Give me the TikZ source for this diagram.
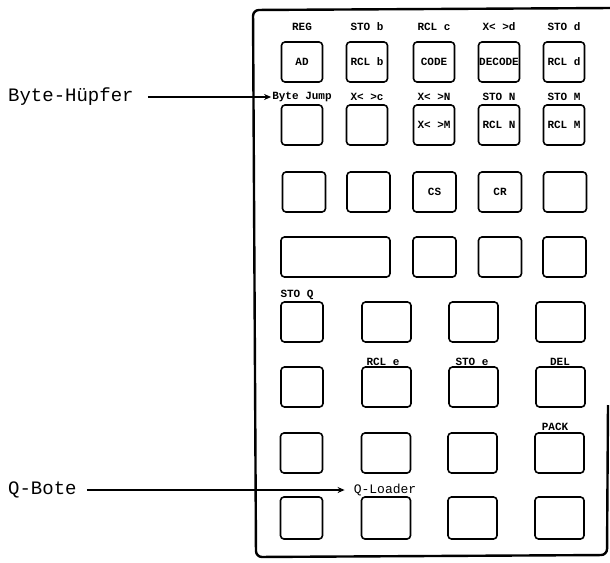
\documentclass[tikz,border=0pt]{standalone}
\usepackage{fontspec}
\setmainfont{Liberation Mono}
\usetikzlibrary{arrows.meta}
\begin{document}
\begin{tikzpicture}[x=1pt,y=-1pt,
  key/.style={draw, line width=1.6pt, rounded corners=3.5pt, inner sep=0pt,
    minimum width=41pt, minimum height=40pt, font=\fontsize{11}{11}\selectfont\bfseries},
  wkey/.style={key, minimum width=49pt},
  lab/.style={inner sep=1pt, font=\fontsize{11}{11}\selectfont\bfseries},
  side/.style={inner sep=0pt, anchor=west, font=\fontsize{19}{19}\selectfont},
  frame/.style={line width=2.4pt, rounded corners=6pt},
  pointer/.style={line width=1.1pt, -{Stealth[length=7pt,width=6pt]}}]
\useasboundingbox (0,0) rectangle (610,562);
% frame
\draw[frame] (612,8) -- (253,10) -- (256,557) -- (607,555) -- (608,405);
% row 1
\node[key] (k11) at (302,62) {AD};
\node[key] (k12) at (367,62) {RCL b};
\node[key] (k13) at (434,62) {CODE};
\node[key] (k14) at (499,62) {DECODE};
\node[key] (k15) at (564,62) {RCL d};
\node[lab] (l11) at (302,27) {REG};
\node[lab] (l12) at (367,27) {STO b};
\node[lab] (l13) at (434,27) {RCL c};
\node[lab] (l14) at (499,27) {X< >d};
\node[lab] (l15) at (564,27) {STO d};
% row 2
\node[key] (k21) at (302,125) {};
\node[key] (k22) at (367,125) {};
\node[key] (k23) at (434,125) {X< >M};
\node[key] (k24) at (499,125) {RCL N};
\node[key] (k25) at (564,125) {RCL M};
\node[lab] (bj) at (302,97) {Byte Jump};
\node[lab] (l22) at (367,97) {X< >c};
\node[lab] (l23) at (434,97) {X< >N};
\node[lab] (l24) at (499,97) {STO N};
\node[lab] (l25) at (564,97) {STO M};
% row 3
\node[key, minimum width=43pt] (k31) at (304,192) {};
\node[key, minimum width=43pt] (k32) at (368.5,192) {};
\node[key, minimum width=43pt] (k33) at (434.5,192) {CS};
\node[key, minimum width=43pt] (k34) at (500,192) {CR};
\node[key, minimum width=43pt] (k35) at (565,192) {};
% row 4
\node[key, minimum width=109pt] (k41) at (335.5,257) {};
\node[key, minimum width=43pt] (k43) at (434.5,257) {};
\node[key, minimum width=43pt] (k44) at (500,257) {};
\node[key, minimum width=43pt] (k45) at (564.5,257) {};
% row 5
\node[key, minimum width=42pt] (k51) at (302,322) {};
\node[wkey] (k52) at (386.5,322) {};
\node[wkey] (k53) at (473.5,322) {};
\node[wkey] (k54) at (560.5,322) {};
\node[lab] (l51) at (297,295) {STO Q};
% row 6
\node[key, minimum width=42pt] (k61) at (302,387) {};
\node[wkey] (k62) at (386.5,387) {};
\node[wkey] (k63) at (473.5,387) {};
\node[wkey] (k64) at (560.5,387) {};
\node[lab] (l62) at (383,362) {RCL e};
\node[lab] (l63) at (472,362) {STO e};
\node[lab] (l64) at (560,362) {DEL};
% row 7
\node[key, minimum width=42pt] (k71) at (301.5,453) {};
\node[wkey] (k72) at (386,453) {};
\node[wkey] (k73) at (472.5,453) {};
\node[wkey] (k74) at (559.5,453) {};
\node[lab] (l74) at (555,427) {PACK};
% row 8
\node[key, minimum width=42pt, minimum height=42pt] (k81) at (301.5,518) {};
\node[wkey, minimum height=42pt] (k82) at (386,518) {};
\node[wkey, minimum height=42pt] (k83) at (472.5,518) {};
\node[wkey, minimum height=42pt] (k84) at (559.5,518) {};
\node[lab, font=\fontsize{13}{13}\selectfont] (ql) at (385,490) {Q-Loader};
% side labels
\node[side] (hupfer) at (8,97) {Byte-Hüpfer};
\node[side] (qbote) at (8,490) {Q-Bote};
\draw[pointer] ([xshift=14pt]hupfer.east) -- (hupfer.east -| bj.west);
\draw[pointer] ([xshift=10pt]qbote.east) -- ([xshift=-8pt]qbote.east -| ql.west);
\end{tikzpicture}
\end{document}
